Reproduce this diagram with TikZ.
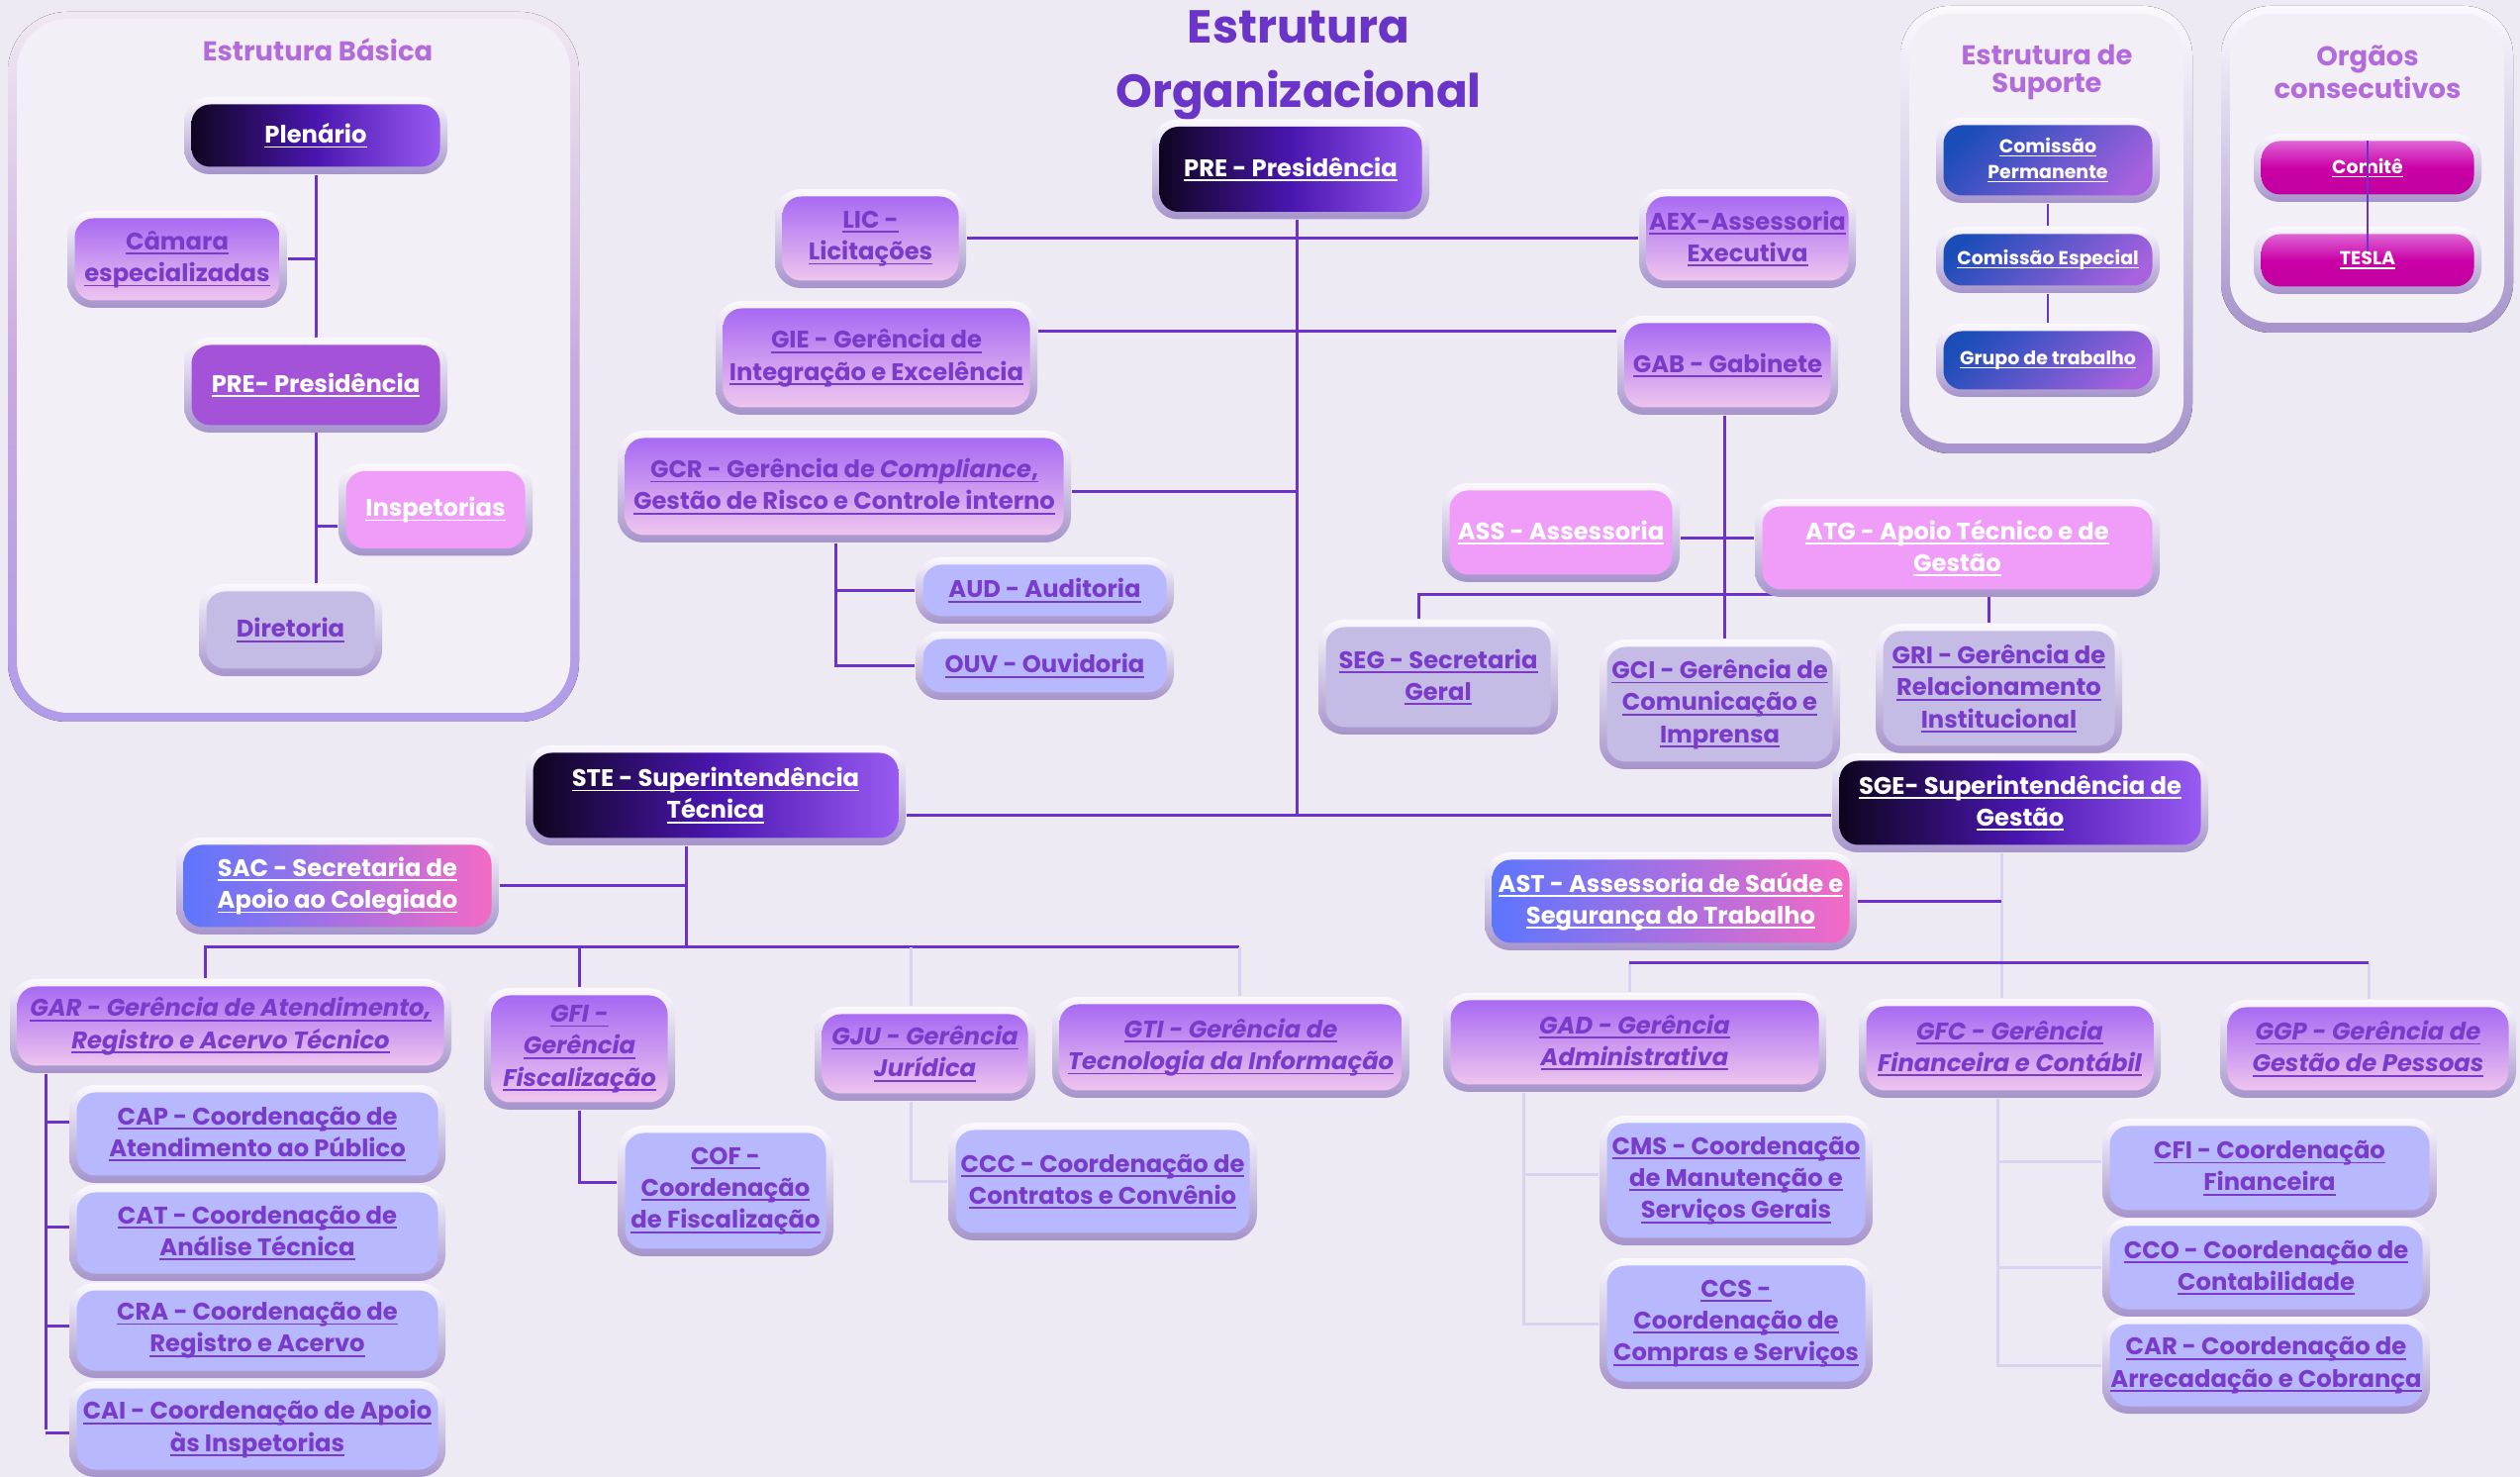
\documentclass[tikz,border=0pt]{standalone}
\usepackage{fontspec}
\setmainfont{Poppins}
\usetikzlibrary{backgrounds}

\definecolor{bgc}{HTML}{EEEAF3}
\definecolor{panelc}{HTML}{F2EFF6}
\definecolor{linec}{HTML}{6B33C9}
\definecolor{lightc}{HTML}{D9D2F0}
\definecolor{rimT}{HTML}{FBF9FE}
\definecolor{rimB}{HTML}{A593CB}
\definecolor{darkL}{HTML}{0B0418}
\definecolor{darkM}{HTML}{4A16B0}
\definecolor{darkR}{HTML}{9C5EF4}
\definecolor{gradT}{HTML}{A162F3}
\definecolor{gradB}{HTML}{F5CDEE}
\definecolor{violc}{HTML}{A452D8}
\definecolor{pinkc}{HTML}{F09DF9}
\definecolor{grayc}{HTML}{C5BCE5}
\definecolor{peric}{HTML}{B8B8FE}
\definecolor{duoL}{HTML}{5A76FF}
\definecolor{duoR}{HTML}{F66AC4}
\definecolor{comL}{HTML}{1A4DB8}
\definecolor{comR}{HTML}{A862DF}
\definecolor{magT}{HTML}{E57FE3}
\definecolor{magM}{HTML}{C900A6}
\definecolor{magB}{HTML}{C2009E}
\definecolor{txtc}{HTML}{7A3BCB}
\definecolor{titc}{HTML}{6A34C8}
\definecolor{ptitc}{HTML}{B36BDC}
\definecolor{frameT}{HTML}{F0E8F2}
\definecolor{frameM}{HTML}{C9A9DF}
\definecolor{frameB}{HTML}{B09CEA}

\newcommand\uln[1]{\setbox0\hbox{#1}\leavevmode\rlap{\rule[-0.2em]{\wd0}{0.075em}}\box0}
\newcommand\boxfont{\fontsize{6.9}{9.2}\selectfont\bfseries}
\newcommand\smallboxfont{\fontsize{5.4}{7.4}\selectfont\bfseries}

\begin{document}
\begin{tikzpicture}[x=0.1mm,y=-0.1mm,
    wh/.style 2 args={minimum width={#1*0.1mm}, minimum height={#2*0.1mm}},
    box/.style={rectangle, rounded corners=2.6mm, top color=rimT, bottom color=rimB,
                inner sep=0.5mm, align=center, font=\boxfont, text=txtc,
                path picture={\path[boxfill]
                  ([shift={(0.75mm,-0.75mm)}]path picture bounding box.north west) rectangle
                  ([shift={(-0.75mm,0.75mm)}]path picture bounding box.south east);}},
    dark box/.style={box, text=white, boxfill/.style={rounded corners=1.9mm, left color=darkL, right color=darkR, middle color=darkM}},
    grad box/.style={box, boxfill/.style={rounded corners=1.9mm, top color=gradT, bottom color=gradB}},
    ital box/.style={grad box, font=\boxfont\itshape},
    viol box/.style={box, text=white, boxfill/.style={rounded corners=1.9mm, fill=violc}},
    pink box/.style={box, text=white, boxfill/.style={rounded corners=1.9mm, fill=pinkc}},
    gray box/.style={box, boxfill/.style={rounded corners=1.9mm, fill=grayc}},
    peri box/.style={box, boxfill/.style={rounded corners=1.9mm, fill=peric}},
    duo box/.style={box, text=white, boxfill/.style={rounded corners=1.9mm, left color=duoL, right color=duoR}},
    com box/.style={box, text=white, font=\smallboxfont, boxfill/.style={rounded corners=1.9mm, top color=comL, bottom color=comR, shading angle=45}},
    mag box/.style={box, text=white, font=\smallboxfont, boxfill/.style={rounded corners=1.9mm, top color=magT, bottom color=magB, middle color=magM}},
    main title/.style={align=center, text=titc, font=\fontsize{13.3}{18.7}\selectfont\bfseries},
    panel title/.style={align=center, text=ptitc, font=\fontsize{7.8}{8.2}\selectfont\bfseries},
    link/.style={draw=linec, line width=0.3mm},
    faint/.style={draw=lightc, line width=0.3mm}]

\useasboundingbox (0,0) rectangle (2546,1492);

% titles
\node[main title] (title) at (1312,66) {Estrutura\\Organizacional};
\node[panel title] (tbas) at (321,50) {Estrutura Básica};
\node[panel title] (tsup) at (2068,73) {Estrutura de\\Suporte};
\node[panel title] (torg) at (2392,73) {Orgãos\\consecutivos};

% estrutura basica
\node[dark box, wh={266}{78}] (plen) at (319,137) {\uln{Plenário}};
\node[grad box, wh={222}{98}] (cam) at (179,262) {\uln{Câmara}\\\uln{especializadas}};
\node[viol box, wh={266}{96}] (preb) at (319,389) {\uln{PRE- Presidência}};
\node[pink box, wh={196}{93}] (insp) at (440,515) {\uln{Inspetorias}};
\node[gray box, wh={185}{93}] (dir) at (293.5,636.5) {\uln{Diretoria}};

% presidencia
\node[dark box, wh={280}{101}] (pre) at (1304,171) {\uln{PRE - Presidência}};
\node[grad box, wh={193}{100}] (lic) at (879.5,241) {\uln{LIC -}\\\uln{Licitações}};
\node[grad box, wh={219}{100}] (aex) at (1765.5,241) {\uln{AEX-Assessoria}\\\uln{Executiva}};
\node[grad box, wh={325}{115}] (gie) at (885.5,361.5) {\uln{GIE - Gerência de}\\\uln{Integração e Excelência}};
\node[grad box, wh={223}{100}] (gab) at (1745.5,369) {\uln{GAB - Gabinete}};
\node[grad box, wh={458}{113}] (gcr) at (853,491.5) {\uln{GCR - Gerência de \textit{Compliance},}\\\uln{Gestão de Risco e Controle interno}};
\node[peri box, wh={261}{67}] (aud) at (1055.5,596.5) {\uln{AUD - Auditoria}};
\node[peri box, wh={261}{69}] (ouv) at (1055.5,672.5) {\uln{OUV - Ouvidoria}};
\node[pink box, wh={240}{100}] (ass) at (1577,538) {\uln{ASS - Assessoria}};
\node[pink box, wh={409}{99}] (atg) at (1977.5,553.5) {\uln{ATG - Apoio Técnico e de}\\\uln{Gestão}};
\node[gray box, wh={242}{116}] (seg) at (1453,684) {\uln{SEG - Secretaria}\\\uln{Geral}};
\node[gray box, wh={243}{131}] (gci) at (1737.5,711.5) {\uln{GCI - Gerência de}\\\uln{Comunicação e}\\\uln{Imprensa}};
\node[gray box, wh={249}{131}] (gri) at (2019.5,695.5) {\uln{GRI - Gerência de}\\\uln{Relacionamento}\\\uln{Institucional}};

% superintendencias
\node[dark box, wh={384}{101}] (ste) at (723,803.5) {\uln{STE - Superintendência}\\\uln{Técnica}};
\node[dark box, wh={380}{100}] (sge) at (2041,811) {\uln{SGE- Superintendência de}\\\uln{Gestão}};
\node[duo box, wh={326}{98}] (sac) at (341,895) {\uln{SAC - Secretaria de}\\\uln{Apoio ao Colegiado}};
\node[duo box, wh={376}{99}] (ast) at (1688,910.5) {\uln{AST - Assessoria de Saúde e}\\\uln{Segurança do Trabalho}};

% gerencias tecnicas
\node[ital box, wh={446}{95}] (gar) at (233,1036.5) {\uln{GAR - Gerência de Atendimento,}\\\uln{Registro e Acervo Técnico}};
\node[ital box, wh={193}{123}] (gfi) at (585.5,1059.5) {\uln{GFI -}\\\uln{Gerência}\\\uln{Fiscalização}};
\node[ital box, wh={223}{95}] (gju) at (934.5,1064.5) {\uln{GJU - Gerência}\\\uln{Jurídica}};
\node[ital box, wh={361}{102}] (gti) at (1243.5,1058) {\uln{GTI - Gerência de}\\\uln{Tecnologia da Informação}};
\node[peri box, wh={380}{99}] (cap) at (260,1145.5) {\uln{CAP - Coordenação de}\\\uln{Atendimento ao Público}};
\node[peri box, wh={380}{97}] (cat) at (260,1245.5) {\uln{CAT - Coordenação de}\\\uln{Análise Técnica}};
\node[peri box, wh={380}{96}] (cra) at (260,1344) {\uln{CRA - Coordenação de}\\\uln{Registro e Acervo}};
\node[peri box, wh={380}{97}] (cai) at (260,1443.5) {\uln{CAI - Coordenação de Apoio}\\\uln{às Inspetorias}};
\node[peri box, wh={218}{132}] (cof) at (733,1203) {\uln{COF -}\\\uln{Coordenação}\\\uln{de Fiscalização}};
\node[peri box, wh={312}{119}] (ccc) at (1114,1193.5) {\uln{CCC - Coordenação de}\\\uln{Contratos e Convênio}};

% gerencias de gestao
\node[ital box, wh={387}{100}] (gad) at (1651.5,1053) {\uln{GAD - Gerência}\\\uln{Administrativa}};
\node[ital box, wh={305}{100}] (gfc) at (2030.5,1059) {\uln{GFC - Gerência}\\\uln{Financeira e Contábil}};
\node[ital box, wh={299}{99}] (ggp) at (2392.5,1059.5) {\uln{GGP - Gerência de}\\\uln{Gestão de Pessoas}};
\node[peri box, wh={276}{131}] (cms) at (1754,1192.5) {\uln{CMS - Coordenação}\\\uln{de Manutenção e}\\\uln{Serviços Gerais}};
\node[peri box, wh={276}{132}] (ccs) at (1754,1337) {\uln{CCS -}\\\uln{Coordenação de}\\\uln{Compras e Serviços}};
\node[peri box, wh={338}{100}] (cfi) at (2293,1180) {\uln{CFI - Coordenação}\\\uln{Financeira}};
\node[peri box, wh={331}{99}] (cco) at (2289.5,1280.5) {\uln{CCO - Coordenação de}\\\uln{Contabilidade}};
\node[peri box, wh={331}{98}] (car) at (2289.5,1379) {\uln{CAR - Coordenação de}\\\uln{Arrecadação e Cobrança}};

% suporte e orgaos
\node[com box, wh={226}{86}] (cper) at (2069,162) {\uln{Comissão}\\\uln{Permanente}};
\node[com box, wh={226}{67}] (cesp) at (2069,262.5) {\uln{Comissão Especial}};
\node[com box, wh={226}{74}] (gtrab) at (2069,364) {\uln{Grupo de trabalho}};
\node[mag box, wh={230}{69}] (comite) at (2392,169.5) {\uln{Comitê}};
\node[mag box, wh={230}{68}] (tesla) at (2392,263) {\uln{TESLA}};
\draw[linec, line width=0.2mm] ([yshift=-0.8mm]comite.north) -- ([yshift=0.9mm]tesla.center);

\begin{pgfonlayer}{background}
  \fill[bgc] (0,0) rectangle (2546,1492);
  % panels
  \fill[top color=frameT, bottom color=frameB, middle color=frameM, rounded corners=6mm] (8,12) rectangle (585,729);
  \fill[panelc, rounded corners=5.2mm] (17,19) rectangle (576,720);
  \fill[top color=rimT, bottom color=rimB, rounded corners=5mm] (1920,6) rectangle (2215,458);
  \fill[panelc, rounded corners=4.2mm] (1929,14) rectangle (2206,448);
  \fill[top color=rimT, bottom color=rimB, rounded corners=5mm] (2244,6) rectangle (2539,336);
  \fill[panelc, rounded corners=4.2mm] (2253,14) rectangle (2530,326);

  \coordinate (sp) at (1310,824);
  \coordinate (yIN) at (0,532);
  \coordinate (yGIE) at (0,335);
  \coordinate (yGCR) at (0,497);
  \coordinate (xGCR) at (844,0);
  \coordinate (xGAB) at (1742,0);
  \coordinate (yASS) at (0,544);
  \coordinate (bATG) at (0,601);
  \coordinate (xSTE) at (693,0);
  \coordinate (bSTE) at (0,957);
  \coordinate (eSTE) at (1252,957);
  \coordinate (xGAR) at (46,0);
  \coordinate (xGJU) at (920,0);
  \coordinate (xSGE) at (2022,0);
  \coordinate (wSGE) at (1646,973);
  \coordinate (eSGE) at (2393,973);
  \coordinate (xGAD) at (1539,0);
  \coordinate (xGFC) at (2018,0);

  % estrutura basica
  \path[link] (plen.south) -- (plen.south |- dir.north)
              (cam.east) -- (plen.south |- cam.east)
              (insp.west |- yIN) -- (plen.south |- yIN);
  % presidencia
  \path[link] (pre.south -| sp) -- (sp)
              (lic.east) -- (aex.west)
              (gie.east |- yGIE) -- (gab.west |- yGIE)
              (gcr.east |- yGCR) -- (sp |- yGCR)
              (gcr.south -| xGCR) -- (xGCR |- ouv.west) -- (ouv.west)
              (xGCR |- aud.west) -- (aud.west)
              (gab.south -| xGAB) -- (xGAB |- gci.north)
              (ass.east |- yASS) -- (atg.west |- yASS)
              ([xshift=-2mm]seg.north) |- ([xshift=-1mm]gri.north |- bATG) -- ([xshift=-1mm]gri.north)
              (ste.east |- sp) -- (sge.west |- sp);
  % STE
  \path[link] (ste.south -| xSTE) -- (xSTE |- bSTE)
              (sac.east) -- (xSTE |- sac.east)
              ([xshift=-2.6mm]gar.north) |- (eSTE)
              (gfi.north |- bSTE) -- (gfi.north)
              (gar.south -| xGAR) -- (xGAR |- cai.west);
  \foreach \n/\dy in {cap/-12,cat/-6,cra/-5,cai/4}
    \path[link] (xGAR |- \n.west) ++(0,\dy) -- ++(27,0);
  \path[link] (gfi.south) -- (gfi.south |- 0,1195) -- (cof.west |- 0,1195);
  \path[faint] (xGJU |- bSTE) -- (xGJU |- gju.north)
               (eSTE) -- (eSTE |- gti.north)
               (gju.south -| xGJU) -- (xGJU |- ccc.west) -- (ccc.west);
  % SGE
  \path[faint] (sge.south -| xSGE) -- (xSGE |- gfc.north)
               (wSGE) -- (wSGE |- gad.north)
               (eSGE) -- (eSGE |- ggp.north)
               (gad.south -| xGAD) -- (xGAD |- ccs.west) -- (ccs.west)
               (xGAD |- 0,1187) -- (cms.west |- 0,1187)
               (gfc.south -| xGFC) -- (xGFC |- car.west) -- (car.west)
               (xGFC |- 0,1174) -- (cfi.west |- 0,1174)
               (xGFC |- cco.west) -- (cco.west);
  \path[link] (ast.east) -- (ast.east -| xSGE)
              (wSGE) -- (eSGE);
  % suporte
  \path[link, line width=0.2mm] (cper.south) -- (cesp.north)
              (cesp.south) -- (gtrab.north);
\end{pgfonlayer}
\end{tikzpicture}
\end{document}
